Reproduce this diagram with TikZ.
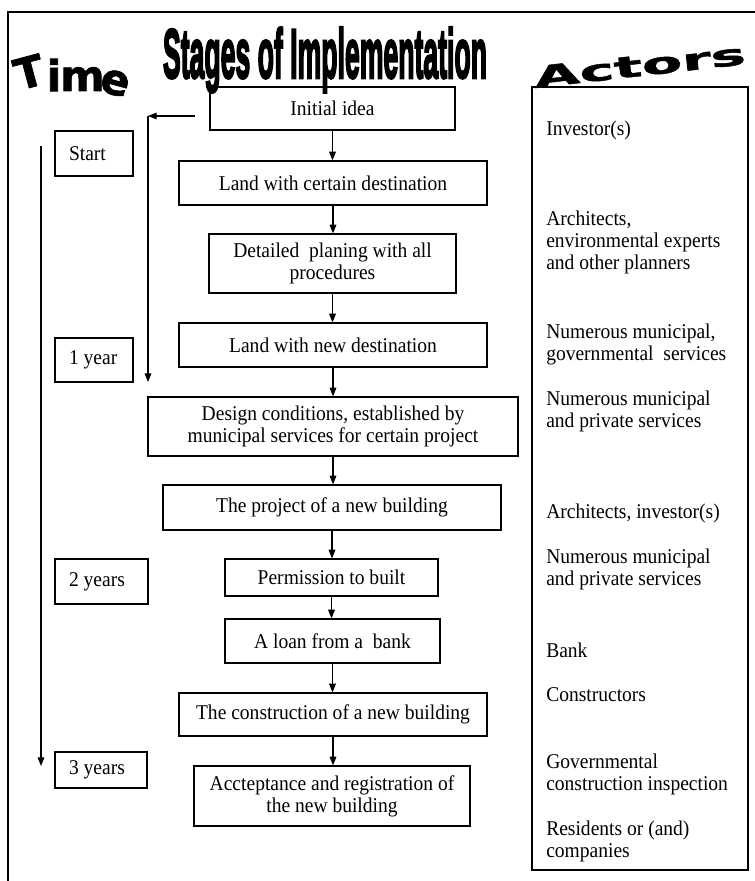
\documentclass[tikz,border=0pt]{standalone}
\usepackage{fontspec}
\usepackage{graphicx}
\setmainfont{Liberation Serif}[FakeStretch=0.93]
\newfontfamily\wafont{DejaVu Sans Bold}[FakeBold=1.5]
\newfontfamily\impactfont{Liberation Sans Bold}[FakeBold=4]
\usetikzlibrary{arrows.meta}

\newcommand\SBox[6]{\node[stagebox, minimum width={(#4-#2)*0.75pt}, minimum height={(#5-#3)*0.75pt}] (#1) at ({(#2+#4)/2},{(#3+#5)/2}) {#6};}
\newcommand\TBox[6]{\pgfmathsetlengthmacro\tbw{(#4-#2-28)*0.75pt}%
  \node[timebox, minimum height={(#5-#3)*0.75pt}] (#1) at ({(#2+#4)/2},{(#3+#5)/2}) {\makebox[\tbw][l]{#6}};}

\begin{document}
\begin{tikzpicture}[x=0.75pt,y=-0.75pt,
  txt/.style={font=\fontsize{15.75pt}{16.5pt}\selectfont},
  arr/.style={-{Triangle[length=6.5pt,width=5pt]}, line width=0.8pt},
  stagebox/.style={txt, draw, line width=0.9pt, align=center, inner sep=0pt},
  timebox/.style={txt, draw, line width=0.9pt, inner xsep=10.5pt, inner ysep=0pt},
  actor/.style={txt, anchor=west, align=left, inner sep=0pt},
  wordart/.style={font=\wafont\fontsize{32pt}{32pt}\selectfont, inner sep=0pt}]
\useasboundingbox (0,0) rectangle (754,881);

% outer frame (cut by the page)
\draw[line width=1.5pt] (8,895) -- (8,12) -- (770,12);

% headings
\node[wordart, rotate=15] (hT) at (29,72) {T};
\node[wordart] (hi) at (54,75) {i};
\node[wordart] (hm) at (82.5,79) {m};
\node[wordart, rotate=-15] (he) at (115,83) {e};
\node[inner sep=0pt, font=\impactfont] (stages) at (325,60) {\resizebox*{243pt}{49pt}{Stages of Implementation}};
\node[font=\wafont\fontsize{22pt}{22pt}\selectfont, inner sep=0pt, anchor=base, rotate=6.5, xscale=2] (actors) at (641,76) {Actors};

% stages
\SBox{init}{210}{87}{455}{130}{Initial idea}
\SBox{land1}{179}{161}{487}{205}{Land with certain destination}
\SBox{det}{209}{234}{456}{293}{Detailed\ \ planing with all\\procedures}
\SBox{land2}{179}{323}{487}{367}{Land with new destination}
\SBox{design}{148}{397}{518}{456}{Design conditions, established by\\municipal services for certain project}
\SBox{proj}{163}{485}{501}{530}{The project of a new building}
\SBox{perm}{225}{559}{438}{596}{Permission to built}
\SBox{loan}{225}{619}{440}{663}{A loan from a\ \ bank}
\SBox{cons}{179}{693}{487}{736}{The construction of a new building}
\SBox{acc}{194}{766}{470}{826}{Accteptance and registration of\\the new building}

\foreach \a/\b in {init/land1, land1/det, det/land2, land2/design, design/proj, proj/perm, perm/loan, loan/cons, cons/acc}
  \draw[arr] (\a.south) -- (\a.south |- \b.north);

% feedback arrow
\coordinate (lp0) at (195,116);
\coordinate (lp1) at (148,116);
\coordinate (lp2) at (148,382);
\draw[arr] (lp0) -- (lp1);
\draw[arr] (lp1) -- (lp2);

% time
\coordinate (t0) at (41,146);
\coordinate (t1) at (41,766);
\draw[arr] (t0) -- (t1);
\TBox{start}{55}{131}{133}{176}{Start}
\TBox{y1}{55}{338}{133}{382}{1 year}
\TBox{y2}{55}{559}{148}{604}{2 years}
\TBox{y3}{55}{752}{147}{788}{3 years}

% actors
\node[draw, line width=0.9pt, minimum width={216*0.75pt}, minimum height={783*0.75pt}, inner sep=0pt] (abox) at (640,478.5) {};
\node[actor] (a1) at (546,130) {Investor(s)};
\node[actor] (a2) at (546,242) {Architects,\\environmental experts\\and other planners};
\node[actor] (a3) at (546,344) {Numerous municipal,\\governmental\ \ services};
\node[actor] (a4) at (546,411) {Numerous municipal\\and private services};
\node[actor] (a5) at (546,513) {Architects, investor(s)};
\node[actor] (a6) at (546,569) {Numerous municipal\\and private services};
\node[actor] (a7) at (546,650) {Bank};
\node[actor] (a8) at (546,695) {Constructors};
\node[actor] (a9) at (546,774) {Governmental\\construction inspection};
\node[actor] (a10) at (546,841) {Residents or (and)\\companies};
\end{tikzpicture}
\end{document}
